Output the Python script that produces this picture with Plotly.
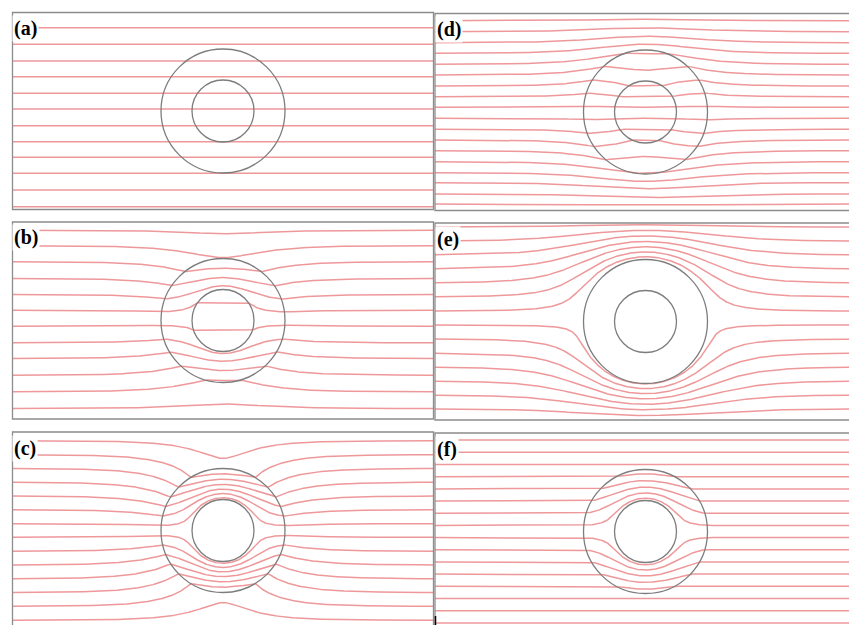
import numpy as np
import plotly.graph_objects as go

# Six panels: core (r < a) / shell (a < r < b) cylinder in a uniform field,
# channel bounded by insulating walls. Lengths in units of the shell radius b.
PANEL_LABELS = ["(a)", "(b)", "(c)", "(d)", "(e)", "(f)"]
R_CORE = 0.5
R_SHELL = 1.0
# conductivities relative to the background (shell: radial / azimuthal)
K_CORE = [1.0, 0.7, 0.0, 1.0, 1.0, 0.0]
K_SHELL_R = [1.0, 2.7, 16.0, 0.5, 1e-4, 5.0 / 3.0]
K_SHELL_T = [1.0, 2.7, 16.0, 0.5, 1e-4, 5.0 / 3.0]

# heights at which the field lines enter on the left edge
SEEDS_A = [1.344, 1.076, 0.806, 0.553, 0.285, 0.032, -0.237, -0.495, -0.747, -1.005, -1.274, -1.544]
SEEDS_B = [1.456, 1.205, 0.947, 0.677, 0.419, 0.166, -0.092, -0.360, -0.613, -0.882, -1.150, -1.419]
SEEDS_C = [1.447, 1.224, 1.002, 0.779, 0.556, 0.334, 0.111, -0.111, -0.334, -0.556, -0.779, -1.002, -1.224, -1.447]
SEEDS_D = [1.473, 1.295, 1.118, 0.947, 0.769, 0.597, 0.419, 0.247, 0.076, -0.102, -0.279, -0.452,
           -0.624, -0.802, -0.979, -1.140, -1.323, -1.484]
SEEDS_E = [1.524, 1.298, 1.073, 0.847, 0.621, 0.395, 0.169, -0.056, -0.282, -0.508, -0.734, -0.960, -1.185, -1.411]
SEEDS_F = [1.474, 1.277, 1.081, 0.884, 0.687, 0.490, 0.294, 0.098, -0.098, -0.294, -0.490, -0.687,
           -0.884, -1.081, -1.277, -1.474]
SEEDS = [SEEDS_A, SEEDS_B, SEEDS_C, SEEDS_D, SEEDS_E, SEEDS_F]

# page layout (pixels)
W, H_PX = 849, 625
PX_PER_UNIT = 62.0
HALF_W_PX, HALF_H_PX = 210.5, 98.5
CENTER_X_PX = [223, 223, 223, 645.5, 645.5, 645.5]
CENTER_Y_PX = [111, 320.5, 530.5, 112, 321.5, 531.5]

LINE_COLOR = "rgb(238,152,154)"
RING_COLOR = "rgb(125,125,125)"
FRAME_COLOR = "rgb(140,140,140)"


def stream_function(k1, kr, kt, a, b, H):
    """Flux stream function; far upstream it equals y."""
    m = np.sqrt(kt / kr)
    km = kr * m
    eta = (km - k1) / (km + k1)
    u = b ** m + eta * a ** (2 * m) * b ** (-m)
    v = km * (b ** m - eta * a ** (2 * m) * b ** (-m))
    beta = (v - u) / (v + u)
    c = np.pi ** 2 / (12 * H ** 2)          # uniform part of the wall images
    P = beta * b ** 2 / (1 + c * beta * b ** 2)
    Ea = 1 - c * P
    B = -2 * Ea * b / (u + v)
    C = eta * a ** (2 * m) * B
    A = -(B * a ** m + C * a ** (-m)) / a
    q = np.pi / (2 * H)

    def psi(x, y):
        r = np.hypot(x, y)
        rs = np.where(r < 1e-9, 1e-9, r)
        s = y / rs
        z = x + 1j * y
        zs = np.where(np.abs(z) < 1e-9, 1e-9, z)
        out = np.imag(z - P * q / np.tanh(q * zs))
        shell = -kr * m * (B * rs ** m - C * rs ** (-m)) * s
        core = k1 * A * y
        return np.where(r >= b, out, np.where(r >= a, shell, core))

    return psi


def trace_lines(psi, seeds, xs, H, iters=48):
    X = np.repeat(xs[None, :], len(seeds), axis=0)
    lev = np.array(seeds)[:, None] * np.ones_like(X)
    lo = -H * np.ones_like(X)
    hi = H * np.ones_like(X)
    for _ in range(iters):
        mid = 0.5 * (lo + hi)
        f = psi(X, mid)
        below = f < lev
        lo = np.where(below, mid, lo)
        hi = np.where(below, hi, mid)
    Y = 0.5 * (lo + hi)
    xx, yy = [], []
    for i in range(len(seeds)):
        xx.extend(xs.tolist() + [None])
        yy.extend(Y[i].tolist() + [None])
    return xx, yy


fig = go.Figure()
shapes, annotations = [], []
layout_axes = {}

for i in range(6):
    cx, cy = CENTER_X_PX[i], CENTER_Y_PX[i]
    x0p, x1p = cx - HALF_W_PX, cx + HALF_W_PX
    y0p, y1p = cy - HALF_H_PX, cy + HALF_H_PX
    vx1, vy1 = min(x1p, W), min(y1p, H_PX)
    xr = [(x0p - cx) / PX_PER_UNIT, (vx1 - cx) / PX_PER_UNIT]
    yr = [-(vy1 - cy) / PX_PER_UNIT, (cy - y0p) / PX_PER_UNIT]
    Hc = HALF_H_PX / PX_PER_UNIT

    sfx = "" if i == 0 else str(i + 1)
    layout_axes["xaxis" + sfx] = dict(domain=[x0p / W, vx1 / W], range=xr, visible=False,
                                      fixedrange=True, anchor="y" + sfx)
    layout_axes["yaxis" + sfx] = dict(domain=[1 - vy1 / H_PX, 1 - y0p / H_PX], range=yr,
                                      visible=False, fixedrange=True, anchor="x" + sfx)

    psi = stream_function(K_CORE[i], K_SHELL_R[i], K_SHELL_T[i], R_CORE, R_SHELL, Hc)
    xs = np.linspace(xr[0], xr[1], 1100)
    lx, ly = trace_lines(psi, SEEDS[i], xs, Hc)
    fig.add_trace(go.Scatter(x=lx, y=ly, mode="lines", xaxis="x" + sfx, yaxis="y" + sfx,
                             line=dict(color=LINE_COLOR, width=1.5), hoverinfo="skip",
                             showlegend=False, name="field lines " + PANEL_LABELS[i]))

    for rad in (R_SHELL, R_CORE):
        shapes.append(dict(type="circle", xref="x" + sfx, yref="y" + sfx,
                           x0=-rad, x1=rad, y0=-rad, y1=rad, layer="above",
                           line=dict(color=RING_COLOR, width=1.3)))

    shapes.append(dict(type="rect", xref="paper", yref="paper",
                       x0=x0p / W, x1=x1p / W, y0=1 - y1p / H_PX, y1=1 - y0p / H_PX,
                       layer="above", line=dict(color=FRAME_COLOR, width=1.3)))

    annotations.append(dict(text="<b>" + PANEL_LABELS[i] + "</b>", xref="paper", yref="paper",
                            x=(x0p - 0.5) / W, y=1 - (y0p + 2.5) / H_PX,
                            xanchor="left", yanchor="top", showarrow=False,
                            bgcolor="white", borderpad=1,
                            font=dict(family="Liberation Serif", size=20, color="black")))

# small dark mark at the bottom edge between the lower panels
shapes.append(dict(type="line", xref="paper", yref="paper", x0=435.5 / W, x1=435.5 / W,
                   y0=0, y1=1 - 616 / H_PX, line=dict(color="black", width=1.5)))

fig.update_layout(width=W, height=H_PX, margin=dict(l=0, r=0, t=0, b=0),
                  paper_bgcolor="white", plot_bgcolor="white",
                  shapes=shapes, annotations=annotations, **layout_axes)

fig.write_html("out.html")
